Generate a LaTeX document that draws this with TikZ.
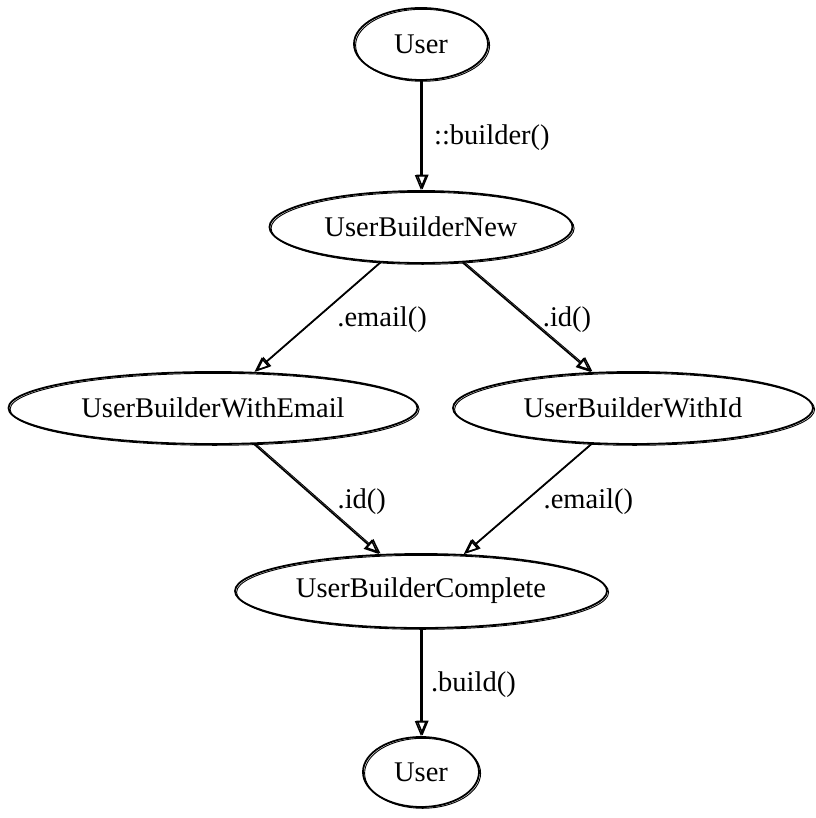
\documentclass[tikz,border=0pt]{standalone}
\usepackage{fontspec}
\setmainfont{Liberation Serif}
\usetikzlibrary{arrows.meta,shapes.geometric}
\tikzset{
  cls/.style={ellipse, draw, line width=1.8bp, inner sep=0pt, font=\fontsize{28.6}{32}\selectfont,
              postaction={draw, line width=0.9bp, transform canvas={shift={(1.6bp,-1.3bp)}}}},
  flow/.style={-{Triangle[open, length=15bp, width=12bp, line width=1.5bp]}, line width=1.6bp,
               postaction={draw, line width=0.9bp, transform canvas={shift={(1.5bp,0.6bp)}}}},
  lbl/.style={right, yshift=-2.5bp, font=\fontsize{28.6}{32}\selectfont},
}
\begin{document}
\begin{tikzpicture}[x=1bp, y=-1bp]
  \useasboundingbox (0,0) rectangle (816,818);
  \node[cls, minimum width=134bp, minimum height=72bp] (U1) at (421,44) {User};
  \node[cls, minimum width=303bp, minimum height=72bp] (N) at (421,227) {UserBuilderNew};
  \node[cls, minimum width=409bp, minimum height=72bp] (E) at (213,408) {UserBuilderWithEmail};
  \node[cls, minimum width=360bp, minimum height=72bp] (I) at (633,408) {UserBuilderWithId};
  \node[cls, minimum width=372bp, minimum height=74bp] (C) at (421,591) {UserBuilderComplete};
  \node[cls, minimum width=116bp, minimum height=70bp] (U2) at (421,772) {User};
  \draw[flow] (U1) -- node[lbl, xshift=9bp] {::builder()} (N);
  \draw[flow] (N) -- node[lbl, xshift=16bp] {.email()} (E);
  \draw[flow] (N) -- node[lbl, xshift=12bp] {.id()} (I);
  \draw[flow] (E) -- node[lbl, xshift=17bp] {.id()} (C);
  \draw[flow] (I) -- node[lbl, xshift=12bp] {.email()} (C);
  \draw[flow] (C) -- node[lbl, xshift=6bp] {.build()} (U2);
\end{tikzpicture}
\end{document}
